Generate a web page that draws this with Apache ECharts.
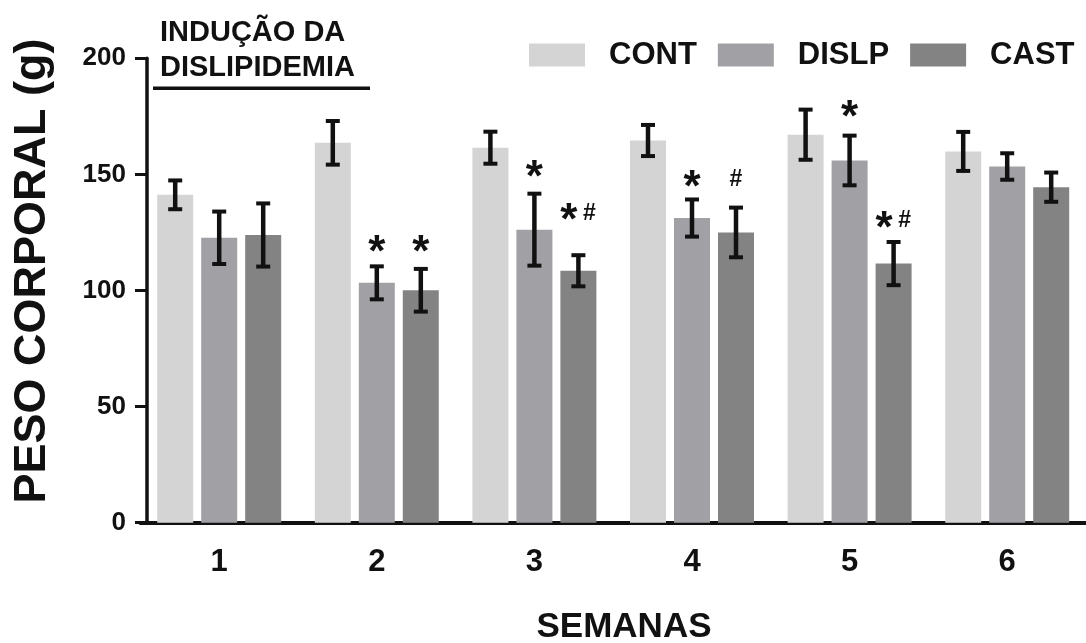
<!DOCTYPE html>
<html>
<head>
<meta charset="utf-8">
<script src="https://cdn.jsdelivr.net/npm/echarts@6/dist/echarts.min.js"></script>
<style>html,body{margin:0;padding:0;background:#fff;}#c{width:1086px;height:643px;}</style>
</head>
<body>
<div id="c"></div>
<script>
// ---- data ----
const weeks = ['1', '2', '3', '4', '5', '6'];
const seriesNames = ['CONT', 'DISLP', 'CAST'];
const cont = [141.2, 163.6, 161.5, 164.6, 167.1, 159.9];
const dislp = [122.7, 103.3, 126.2, 131.2, 156.0, 153.4];
const cast = [123.9, 100.1, 108.5, 125.0, 111.6, 144.5];
const contErr = [6.2, 9.4, 6.9, 6.7, 10.8, 8.4];
const dislpErr = [11.3, 7.1, 15.5, 8.0, 10.7, 5.7];
const castErr = [13.6, 9.2, 6.7, 10.7, 9.3, 6.3];
const yTicks = [0, 50, 100, 150, 200];
// significance marks: week index, series index, value level of mark centre, text
const markWeek = [1, 1, 2, 2, 3, 3, 4, 4];
const markSeries = [1, 2, 1, 2, 1, 2, 1, 2];
const markLevel = [119.7, 119.7, 152.0, 133.3, 147.7, 147.7, 177.6, 130.1];
const markText = ['*', '*', '*', '*#', '*', '#', '*', '*#'];

// ---- styles ----
const FONT = '"Liberation Sans", Arial, Helvetica, sans-serif';
const INK = '#111111';
const colors = ['#d4d4d4', '#a1a1a5', '#838383'];
const BAR_W = 36, BAR_GAP = 8;

const chart = echarts.init(document.getElementById('c'), null, {renderer: 'canvas'});

const values = [cont, dislp, cast];
const errs = [contErr, dislpErr, castErr];

function barSeries(i) {
  return {
    type: 'bar', name: seriesNames[i], data: values[i],
    barWidth: BAR_W, barGap: (BAR_GAP / BAR_W * 100).toFixed(1) + '%',
    itemStyle: {color: colors[i]}, z: 2, silent: true
  };
}
function errSeries(i) {
  return {
    type: 'custom', name: seriesNames[i] + '_err', silent: true, z: 5,
    data: values[i].map((v, k) => [k, v - errs[i][k], v + errs[i][k]]),
    encode: {x: 0, y: [1, 2]},
    renderItem: function (params, api) {
      const k = api.value(0);
      const lo = api.coord([k, api.value(1)]);
      const hi = api.coord([k, api.value(2)]);
      const x = lo[0] + (i - 1) * (BAR_W + BAR_GAP);
      const st = {stroke: INK, lineWidth: 4.5};
      const cap = {stroke: INK, lineWidth: 4};
      return {type: 'group', children: [
        {type: 'line', shape: {x1: x, y1: lo[1], x2: x, y2: hi[1]}, style: st},
        {type: 'line', shape: {x1: x - 7, y1: hi[1], x2: x + 7, y2: hi[1]}, style: cap},
        {type: 'line', shape: {x1: x - 7, y1: lo[1], x2: x + 7, y2: lo[1]}, style: cap}
      ]};
    }
  };
}
const marksSeries = {
  type: 'custom', name: 'marks', silent: true, z: 6,
  data: markWeek.map((w, j) => [w, markLevel[j]]),
  encode: {x: 0, y: 1},
  renderItem: function (params, api) {
    const j = params.dataIndex;
    const p = api.coord([api.value(0), api.value(1)]);
    const x = p[0] + (markSeries[j] - 1) * (BAR_W + BAR_GAP);
    const y = p[1];
    const t = markText[j];
    const star = (cx) => ({type: 'text', style: {text: '*', x: cx, y: y + 9, font: 'bold 44px ' + FONT, fill: INK, align: 'center', verticalAlign: 'middle', textAlign: 'center', textVerticalAlign: 'middle'}});
    const hash = (cx) => ({type: 'text', style: {text: '#', x: cx, y: y, font: 'bold 23px ' + FONT, fill: INK, align: 'center', verticalAlign: 'middle', textAlign: 'center', textVerticalAlign: 'middle'}});
    const ch = [];
    if (t === '*') ch.push(star(x));
    else if (t === '#') ch.push(hash(x));
    else { ch.push(star(x - 9.5)); ch.push(hash(x + 11)); }
    return {type: 'group', children: ch};
  }
};

const option = {
  animation: false,
  backgroundColor: '#ffffff',
  textStyle: {fontFamily: FONT},
  grid: {left: 140.4, top: 58.3, width: 963.6, height: 464.4, containLabel: false},
  legend: {
    data: seriesNames, left: 524, top: 32, width: 900, itemWidth: 56, itemHeight: 23, itemGap: 21,
    orient: 'horizontal', icon: 'rect', selectedMode: false,
    textStyle: {fontFamily: FONT, fontWeight: 'bold', fontSize: 31, color: INK, lineHeight: 36, padding: [0, 0, 0, 19]}
  },
  xAxis: {
    type: 'category', data: weeks,
    axisLine: {lineStyle: {color: INK, width: 4}},
    axisTick: {alignWithLabel: true, length: 10, lineStyle: {color: INK, width: 3}},
    axisLabel: {fontFamily: FONT, fontWeight: 'bold', fontSize: 31, color: INK, margin: 24}
  },
  yAxis: {
    type: 'value', min: yTicks[0], max: yTicks[yTicks.length - 1], interval: yTicks[1] - yTicks[0],
    offset: -6.6,
    axisLine: {show: true, lineStyle: {color: INK, width: 3.5}},
    axisTick: {show: true, length: 12, lineStyle: {color: INK, width: 3}},
    splitLine: {show: false},
    axisLabel: {fontFamily: FONT, fontWeight: 'bold', fontSize: 26, color: INK, margin: 21}
  },
  graphic: [
    {type: 'text', x: 33, y: 271, rotation: Math.PI / 2,
     style: {text: 'PESO CORPORAL (g)', font: 'bold 45px ' + FONT, fill: INK, align: 'center', verticalAlign: 'middle', textAlign: 'center', textVerticalAlign: 'middle'}},
    {type: 'text', x: 624, y: 627.5,
     style: {text: 'SEMANAS', font: 'bold 35px ' + FONT, fill: INK, align: 'center', verticalAlign: 'middle', textAlign: 'center', textVerticalAlign: 'middle'}},
    {type: 'text', x: 160, y: 33.3,
     style: {text: 'INDUÇÃO DA', font: 'bold 29px ' + FONT, fill: INK, align: 'left', verticalAlign: 'middle', textAlign: 'left', textVerticalAlign: 'middle'}},
    {type: 'text', x: 160, y: 68,
     style: {text: 'DISLIPIDEMIA', font: 'bold 29px ' + FONT, fill: INK, align: 'left', verticalAlign: 'middle', textAlign: 'left', textVerticalAlign: 'middle'}},
    {type: 'line', shape: {x1: 153, y1: 88.3, x2: 370, y2: 88.3}, style: {stroke: INK, lineWidth: 3.5}}
  ],
  series: [barSeries(0), barSeries(1), barSeries(2), errSeries(0), errSeries(1), errSeries(2), marksSeries]
};
chart.setOption(option);
</script>
</body>
</html>
